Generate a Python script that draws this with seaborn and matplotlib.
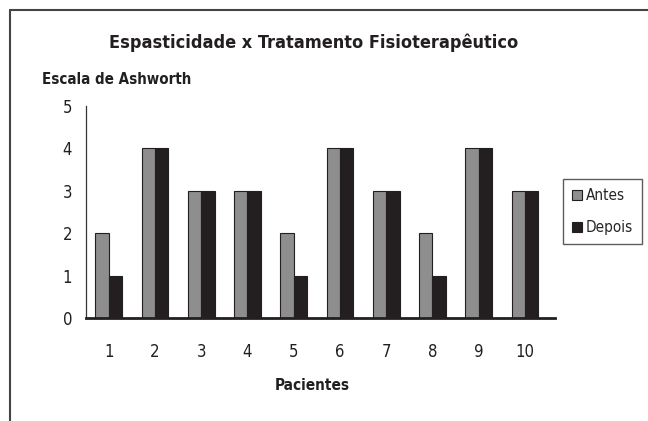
import matplotlib
matplotlib.use("Agg")
import matplotlib.pyplot as plt
from matplotlib.lines import Line2D
import seaborn as sns
import pandas as pd

# Ashworth scale per patient, before and after physiotherapy
pacientes = ["1", "2", "3", "4", "5", "6", "7", "8", "9", "10"]
antes = [2, 4, 3, 3, 2, 4, 3, 2, 4, 3]
depois = [1, 4, 3, 3, 1, 4, 3, 1, 4, 3]
series = ["Antes", "Depois"]
y_ticks = [0, 1, 2, 3, 4, 5]

df = pd.DataFrame({
    "Paciente": pacientes * 2,
    "Escala": antes + depois,
    "Momento": [series[0]] * len(antes) + [series[1]] * len(depois),
})

sns.set_theme(style="white")
plt.rcParams["font.family"] = ["DejaVu Sans"]
plt.rcParams["font.stretch"] = "condensed"

fig = plt.figure(figsize=(6.48, 4.21), dpi=100)
ax = fig.add_axes([86 / 648, 103 / 421, 469 / 648, 212 / 421])

gray = "#8e8e8e"
black = "#231f20"
sns.barplot(data=df, x="Paciente", y="Escala", hue="Momento",
            order=pacientes, hue_order=series, palette=[gray, black],
            width=0.58, edgecolor=black, linewidth=0.8, saturation=1,
            ax=ax)

ax.set_ylim(0, 5)
ax.set_xlim(-0.49, 9.65)
ax.set_yticks(y_ticks)
ax.set_yticklabels([str(v) for v in y_ticks], fontsize=12, color="#231f20",
                   fontstretch="condensed")
ax.set_xticklabels(pacientes, fontsize=12, color="#231f20",
                   fontstretch="condensed")
ax.tick_params(axis="x", length=0, pad=18)
ax.tick_params(axis="y", length=0, pad=10)
ax.set_xlabel("Pacientes", fontsize=11, fontweight="bold",
              color="#231f20", fontstretch="condensed")
ax.xaxis.set_label_coords((312 - 86) / 469, -(385 - 318) / 212)
ax.xaxis.label.set_va("center")
ax.set_ylabel("")

for s in ["top", "right"]:
    ax.spines[s].set_visible(False)
ax.spines["left"].set_color("#333333")
ax.spines["left"].set_linewidth(0.9)
ax.spines["bottom"].set_color("#231f20")
ax.spines["bottom"].set_linewidth(2.0)
ax.grid(False)

fig.text(313.5 / 648, 1 - 43 / 421, "Espasticidade x Tratamento Fisioterapêutico",
         ha="center", va="center", fontsize=13, fontweight="bold",
         color="#231f20", fontstretch="condensed")
fig.text(42 / 648, 1 - 79 / 421, "Escala de Ashworth", ha="left",
         va="center", fontsize=10.8, fontweight="bold", color="#231f20",
         fontstretch="condensed")

handles = [
    Line2D([0], [0], marker="s", linestyle="none", markersize=7,
           markerfacecolor=gray, markeredgecolor=black, markeredgewidth=0.8),
    Line2D([0], [0], marker="s", linestyle="none", markersize=7,
           markerfacecolor=black, markeredgecolor=black, markeredgewidth=0.8),
]
leg = ax.legend(handles, series, loc="center left",
                bbox_to_anchor=(1.017, 0.502), frameon=True, fancybox=False,
                edgecolor="#333333",
                prop={"stretch": "condensed", "size": 11},
                handlelength=0.7, handletextpad=0.2, borderpad=0.6,
                labelspacing=1.1, borderaxespad=0)
leg.get_frame().set_linewidth(1.0)

# outer frame along the left and top edges
fig.add_artist(Line2D([10 / 648, 10 / 648], [0, 1 - 10 / 421],
                      transform=fig.transFigure, color="#444444", lw=1.5))
fig.add_artist(Line2D([10 / 648, 1], [1 - 10 / 421, 1 - 10 / 421],
                      transform=fig.transFigure, color="#444444", lw=1.5))

fig.savefig("out.png", dpi=100, facecolor="white")
